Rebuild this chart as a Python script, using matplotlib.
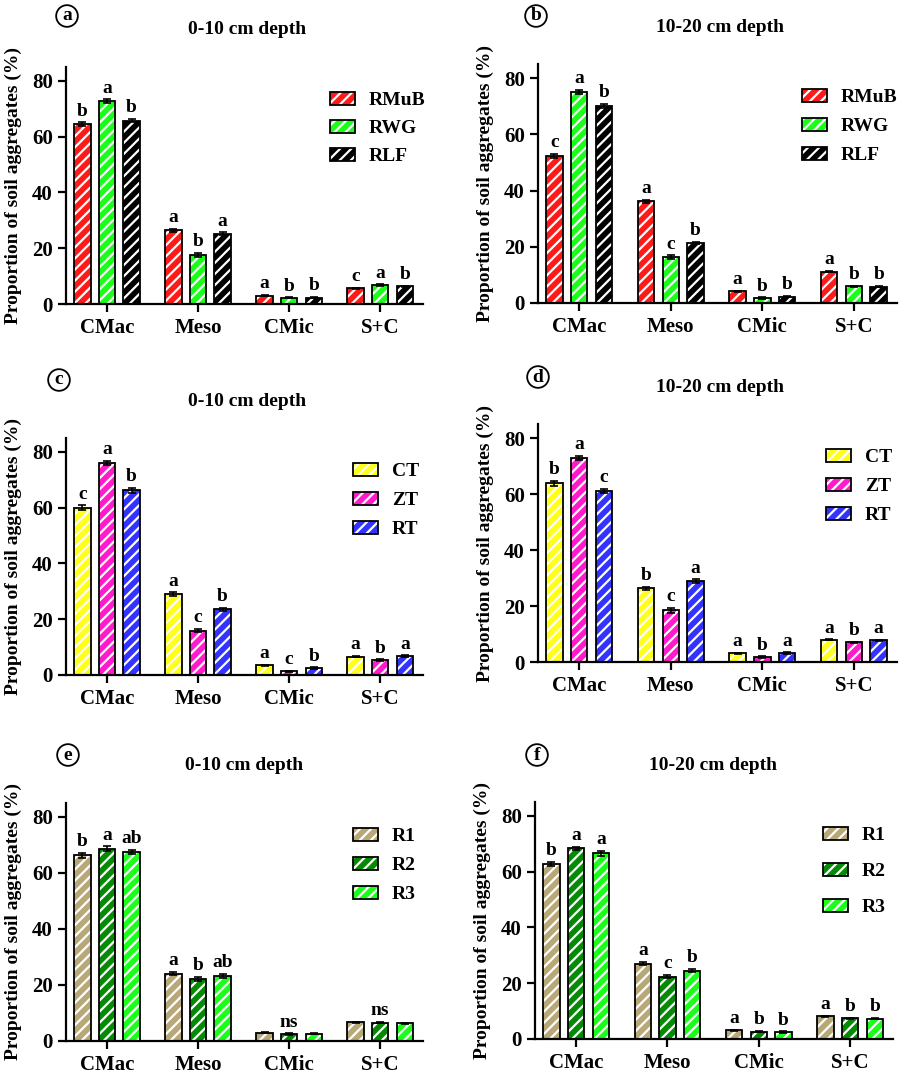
import numpy as np
import matplotlib
matplotlib.use('Agg')
import matplotlib.pyplot as plt
from matplotlib.patches import Patch

plt.rcParams['font.family'] = ['Liberation Serif', 'DejaVu Serif']
plt.rcParams['font.weight'] = 'bold'
plt.rcParams['axes.labelweight'] = 'bold'
plt.rcParams['hatch.linewidth'] = 1.6

categories = ['CMac', 'Meso', 'CMic', 'S+C']

# residue management (a, b)
rmub_0_10 = [64.4, 26.4, 3.0, 5.6]
rwg_0_10 = [72.7, 17.5, 2.2, 6.8]
rlf_0_10 = [65.8, 25.2, 2.3, 6.4]
rmub_10_20 = [52.2, 36.2, 4.2, 11.1]
rwg_10_20 = [75.2, 16.2, 1.8, 6.0]
rlf_10_20 = [70.1, 21.3, 2.3, 5.8]

# tillage (c, d)
ct_0_10 = [60.0, 29.0, 3.5, 6.6]
zt_0_10 = [76.0, 15.9, 1.4, 5.4]
rt_0_10 = [66.2, 23.6, 2.5, 6.8]
ct_10_20 = [63.8, 26.3, 3.1, 7.9]
zt_10_20 = [73.0, 18.4, 1.8, 7.1]
rt_10_20 = [61.1, 28.9, 3.2, 7.7]

# rotation (e, f)
r1_0_10 = [66.3, 24.0, 2.9, 6.7]
r2_0_10 = [68.7, 22.1, 2.5, 6.6]
r3_0_10 = [67.5, 23.3, 2.6, 6.3]
r1_10_20 = [62.7, 27.0, 3.2, 8.2]
r2_10_20 = [68.4, 22.4, 2.6, 7.4]
r3_10_20 = [66.6, 24.5, 2.5, 7.3]

err_a = [[0.7, 0.6, 0.2, 0.2], [0.7, 0.7, 0.2, 0.2], [0.6, 0.5, 0.2, 0.2]]
err_b = [[0.7, 0.6, 0.2, 0.2], [0.7, 0.7, 0.2, 0.2], [0.7, 0.4, 0.2, 0.2]]
err_c = [[0.8, 0.6, 0.2, 0.2], [0.7, 0.6, 0.2, 0.2], [0.8, 0.5, 0.2, 0.2]]
err_d = [[0.8, 0.6, 0.2, 0.2], [0.7, 0.8, 0.2, 0.2], [0.7, 0.6, 0.2, 0.2]]
err_e = [[0.8, 0.6, 0.2, 0.2], [0.8, 0.7, 0.2, 0.2], [0.8, 0.7, 0.2, 0.2]]
err_f = [[0.7, 0.6, 0.2, 0.2], [0.6, 0.6, 0.2, 0.2], [0.8, 0.6, 0.2, 0.2]]

letters_a = [['b', 'a', 'a', 'c'], ['a', 'b', 'b', 'a'], ['b', 'a', 'b', 'b']]
letters_b = [['c', 'a', 'a', 'a'], ['a', 'c', 'b', 'b'], ['b', 'b', 'b', 'b']]
letters_c = [['c', 'a', 'a', 'a'], ['a', 'c', 'c', 'b'], ['b', 'b', 'b', 'a']]
letters_d = [['b', 'b', 'a', 'a'], ['a', 'c', 'b', 'b'], ['c', 'a', 'a', 'a']]
letters_e = [['b', 'a', '', ''], ['a', 'b', 'ns', 'ns'], ['ab', 'ab', '', '']]
letters_f = [['b', 'a', 'a', 'a'], ['a', 'c', 'b', 'b'], ['a', 'b', 'b', 'b']]

residue_names = ['RMuB', 'RWG', 'RLF']
tillage_names = ['CT', 'ZT', 'RT']
rotation_names = ['R1', 'R2', 'R3']
residue_colors = ['#ff1a1a', '#1aff1a', '#000000']
tillage_colors = ['#ffff1a', '#ff1acb', '#3333ff']
rotation_colors = ['#b8a878', '#058a05', '#1aff1a']

W, H = 901, 1076
fig = plt.figure(figsize=(W / 100, H / 100), dpi=100)


def px_axes(left, right, bottom, top):
    return fig.add_axes([left / W, 1 - bottom / H, (right - left) / W, (bottom - top) / H])


# (axes px box, title, title xy, tag, tag xy, legend xy, labelspacing)
panels = [
    ((66, 423, 304, 67), '0-10 cm depth', (247, 30), 'a', (67, 16), (330, 92), 0.55,
     [rmub_0_10, rwg_0_10, rlf_0_10], err_a, letters_a, residue_names, residue_colors),
    ((538, 897, 303, 64), '10-20 cm depth', (720, 28), 'b', (536, 16), (802, 89), 0.6,
     [rmub_10_20, rwg_10_20, rlf_10_20], err_b, letters_b, residue_names, residue_colors),
    ((66, 423, 675, 438), '0-10 cm depth', (247, 401), 'c', (59, 380), (353, 463), 0.6,
     [ct_0_10, zt_0_10, rt_0_10], err_c, letters_c, tillage_names, tillage_colors),
    ((538, 897, 662, 424), '10-20 cm depth', (720, 387), 'd', (538, 377), (826, 449), 0.6,
     [ct_10_20, zt_10_20, rt_10_20], err_d, letters_d, tillage_names, tillage_colors),
    ((66, 423, 1041, 803), '0-10 cm depth', (244, 765), 'e', (68, 755), (353, 828), 0.6,
     [r1_0_10, r2_0_10, r3_0_10], err_e, letters_e, rotation_names, rotation_colors),
    ((535, 893, 1039, 802), '10-20 cm depth', (713, 765), 'f', (537, 755), (823, 827), 0.95,
     [r1_10_20, r2_10_20, r3_10_20], err_f, letters_f, rotation_names, rotation_colors),
]

x = np.arange(len(categories))
bar_w = 0.18
step = 0.27

for box, title, txy, tag, tagxy, lxy, lspace, series, errs, letters, names, colors in panels:
    ax = px_axes(*box)
    handles = []
    for i, vals in enumerate(series):
        xi = x + (i - 1) * step
        ax.bar(xi, vals, bar_w, color=colors[i], edgecolor='white', hatch='///', linewidth=0, zorder=2)
        ax.bar(xi, vals, bar_w, fill=False, edgecolor='black', linewidth=1.3, zorder=3)
        ax.errorbar(xi, vals, yerr=errs[i], fmt='none', ecolor='black', elinewidth=1.2,
                    capsize=3, capthick=1.2, zorder=4)
        for xx, v, e, lab in zip(xi, vals, errs[i], letters[i]):
            if lab:
                ax.annotate(lab, (xx, v + e), xytext=(0, 2), textcoords='offset points',
                            ha='center', va='bottom', fontsize=14, fontweight='bold')
        handles.append((Patch(facecolor=colors[i], edgecolor='white', hatch='///', linewidth=0),
                        Patch(fill=False, edgecolor='black', linewidth=1.3)))

    ax.set_xlim(-0.45, 3.47)
    ax.set_ylim(0, 85)
    ax.set_yticks([0, 20, 40, 60, 80])
    ax.set_xticks(x)
    ax.set_xticklabels(categories)
    for s in ['top', 'right']:
        ax.spines[s].set_visible(False)
    for s in ['left', 'bottom']:
        ax.spines[s].set_linewidth(1.6)
    ax.tick_params(axis='both', labelsize=15, width=1.6, length=6, direction='out')
    ax.tick_params(axis='x', pad=4)
    ax.set_ylabel('Proportion of soil aggregates (%)', fontsize=14, fontweight='bold')
    ax.yaxis.set_label_coords(-0.122, 0.5)

    fig.legend(handles, names, loc='upper left', bbox_to_anchor=(lxy[0] / W, 1 - lxy[1] / H),
               frameon=False, fontsize=14, borderpad=0, borderaxespad=0,
               handlelength=1.3, handleheight=0.65, handletextpad=0.7, labelspacing=lspace)

    fig.text(txy[0] / W, 1 - txy[1] / H, title, ha='center', va='center', fontsize=14, fontweight='bold')
    fig.text(tagxy[0] / W, 1 - tagxy[1] / H, tag, ha='center', va='center', fontsize=14, fontweight='bold',
             bbox=dict(boxstyle='circle,pad=0.12', facecolor='white', edgecolor='black', linewidth=1.3))

fig.savefig('out.png', dpi=100)
